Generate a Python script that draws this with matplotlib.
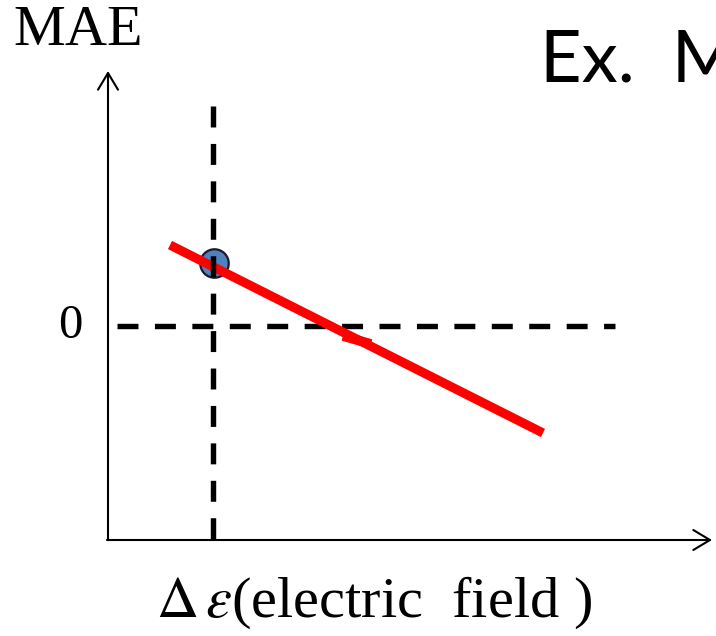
import matplotlib
matplotlib.use("Agg")
import matplotlib.pyplot as plt

plt.rcParams["mathtext.fontset"] = "stix"
plt.rcParams["lines.scale_dashes"] = False

# Sketch data (arbitrary units; MAE = 0 on the horizontal reference line)
field_line_x = [0.62, 4.35]
mae_line_y = [0.81, -1.07]
stub_x = [2.35, 2.63]
stub_y = [-0.10, -0.18]
point_x = [1.06]
point_y = [0.63]
field_ref = 1.05
mae_zero = 0.0
zero_label = "0"
y_label = "MAE"
x_label = r"$\Delta\,\varepsilon$(electric  field )"
title_text = "Ex.  M"

# Extents of the hand-drawn axes
x_origin, x_end = 0.0, 6.04
y_origin, y_end = -2.14, 2.55
hline_start, hline_end = 0.09, 5.07
vline_top = 2.20

fig = plt.figure(figsize=(7.16, 6.36), dpi=100)
ax = fig.add_axes([0, 0, 1, 1])
ax.set_xlim(-1.08, 6.08)
ax.set_ylim(-3.10, 3.26)
ax.axis("off")

dash = (0, (15.1, 11.85))

# Horizontal zero reference
ax.plot([hline_start, hline_end], [mae_zero, mae_zero], color="black",
        lw=3.9, linestyle=dash, dash_capstyle="butt", zorder=2)

# Marked point
ax.plot(point_x, point_y, "o", ms=20.5, mfc="#4F81BD", mec="#1a1a2e", mew=1.6, zorder=3)

# Trend line
ax.plot(field_line_x, mae_line_y, color="#FF0000", lw=6.6,
        solid_capstyle="butt", zorder=4)
ax.plot(stub_x, stub_y, color="#FF0000", lw=7.0, solid_capstyle="butt", zorder=4)

# Vertical reference at the chosen field
ax.plot([field_ref, field_ref], [vline_top, y_origin], color="black",
        lw=3.9, linestyle=dash, dash_capstyle="butt", zorder=5)

# Axes drawn as arrows
arrow = dict(arrowstyle="->,head_length=0.6,head_width=0.36", lw=1.5,
             color="black", shrinkA=0, shrinkB=0, mutation_scale=20)
ax.annotate("", xy=(x_origin, y_end), xytext=(x_origin, y_origin), arrowprops=arrow, zorder=6)
ax.annotate("", xy=(x_end, y_origin), xytext=(x_origin - 0.01, y_origin), arrowprops=arrow, zorder=6)

serif = "Liberation Serif"
ax.text(-0.95, 2.81, y_label, fontsize=42, family=serif, ha="left", va="baseline")
ax.text(-0.38, mae_zero, zero_label, fontsize=35, family=serif, ha="center", va="center")
ax.text(2.66, -2.91, x_label, fontsize=42, family=serif, ha="center", va="baseline")
ax.text(4.32, 2.44, title_text, fontsize=52, family="Lato", ha="left", va="baseline")

fig.savefig("out.png", dpi=100)
